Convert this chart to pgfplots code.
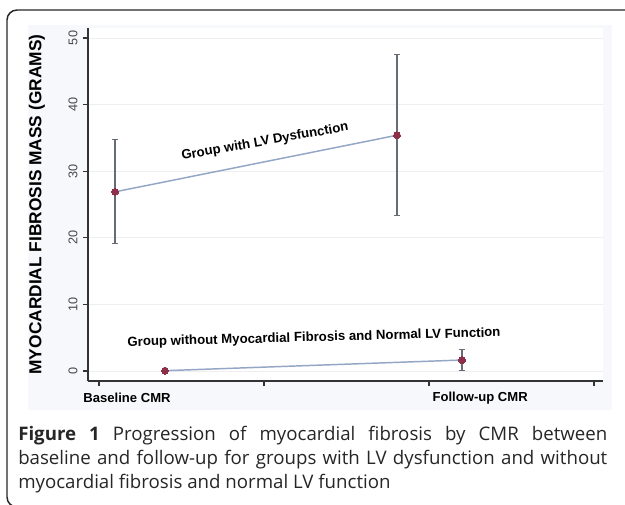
\documentclass[border=0pt]{standalone}
\usepackage{pgfplots}
\pgfplotsset{compat=1.18}
\usepackage{fontspec}
\setmainfont{Liberation Sans}
\newfontfamily\capfont{Open Sans}
\definecolor{linec}{HTML}{94A6C6}
\definecolor{markc}{HTML}{8C3049}
\definecolor{errc}{HTML}{676C74}
\definecolor{gridc}{HTML}{ECEEF2}
\definecolor{bgc}{HTML}{F7F8FB}
\begin{document}
\begin{tikzpicture}
\begin{scope}[x=0.75pt,y=-0.75pt]
\useasboundingbox (0,0) rectangle (625,504);
\fill[bgc] (28,25) rectangle (612,410);
\draw[line width=1.1pt, color=black!85, rounded corners=7.5pt] (7,10) rectangle (640,507);
\node[anchor=north west, inner sep=0pt, text width=441.75pt, align=justify,
      font=\capfont\fontsize{14}{18}\selectfont, text=black!85] at (18,426)
 {\hyphenpenalty=10000 {\bfseries Figure 1} Progression of myocardial fibrosis by CMR between\linebreak baseline and follow-up for groups with LV dysfunction and without\linebreak myocardial fibrosis and normal LV function};
\end{scope}
\begin{axis}[
  at={(66pt,-285.75pt)}, anchor=south west,
  scale only axis, width=386.25pt, height=264.75pt,
  xmin=-0.0667, xmax=3.0545, ymin=-1.5, ymax=51.5,
  axis lines*=left,
  axis line style={line width=0.9pt, color=black!80, -},
  xtick={0,1,2,3}, xticklabels={},
  ytick={0,10,20,30,40,50},
  tick align=outside, major tick length=3.75pt,
  tick style={line width=0.8pt, color=black!80},
  ymajorgrids, grid style={gridc, line width=0.6pt},
  /pgf/number format/assume math mode=true,
  yticklabel style={rotate=90, anchor=south, font=\fontsize{9.5}{9.5}\selectfont, text=black!72, inner sep=1pt, yshift=3pt},
  ylabel={MYOCARDIAL FIBROSIS MASS (GRAMS)},
  ylabel style={at={(axis description cs:-0.099,0.5)}, anchor=center, font=\bfseries\fontsize{13}{13}\selectfont},
  axis background/.style={fill=white},
  clip=false,
]
\addplot[linec, line width=1.1pt, mark=*, mark size=2.6pt,
  mark options={markc, fill=markc, line width=0pt},
  error bars/.cd, y dir=both, y explicit,
  error bar style={errc, line width=0.8pt},
  error mark options={rotate=90, mark size=1.9pt, errc, line width=0.8pt}]
  coordinates {(0.097,26.9) +- (0,7.8) (1.806,35.4) +- (0,12.1)};
\addplot[linec, line width=1.1pt, mark=*, mark size=2.6pt,
  mark options={markc, fill=markc, line width=0pt},
  error bars/.cd, y dir=both, y explicit,
  error bar style={errc, line width=0.8pt},
  error mark options={rotate=90, mark size=1.9pt, errc, line width=0.8pt}]
  coordinates {(0.4,0.05) +- (0,0.1) (2.2,1.65) +- (0,1.6)};
\node[rotate=10, font=\bfseries\fontsize{9.9}{10}\selectfont] at (axis cs:1.006,34.4) {Group with LV Dysfunction};
\node[rotate=1.5, font=\bfseries\fontsize{9.9}{10}\selectfont] at (axis cs:1.303,4.95) {Group without Myocardial Fibrosis and Normal LV Function};
\node[font=\bfseries\fontsize{9.8}{10}\selectfont] at (axis cs:0.17,-4.05) {Baseline CMR};
\node[font=\bfseries\fontsize{9.8}{10}\selectfont] at (axis cs:2.31,-4.05) {Follow-up CMR};
\end{axis}
\end{tikzpicture}
\end{document}
